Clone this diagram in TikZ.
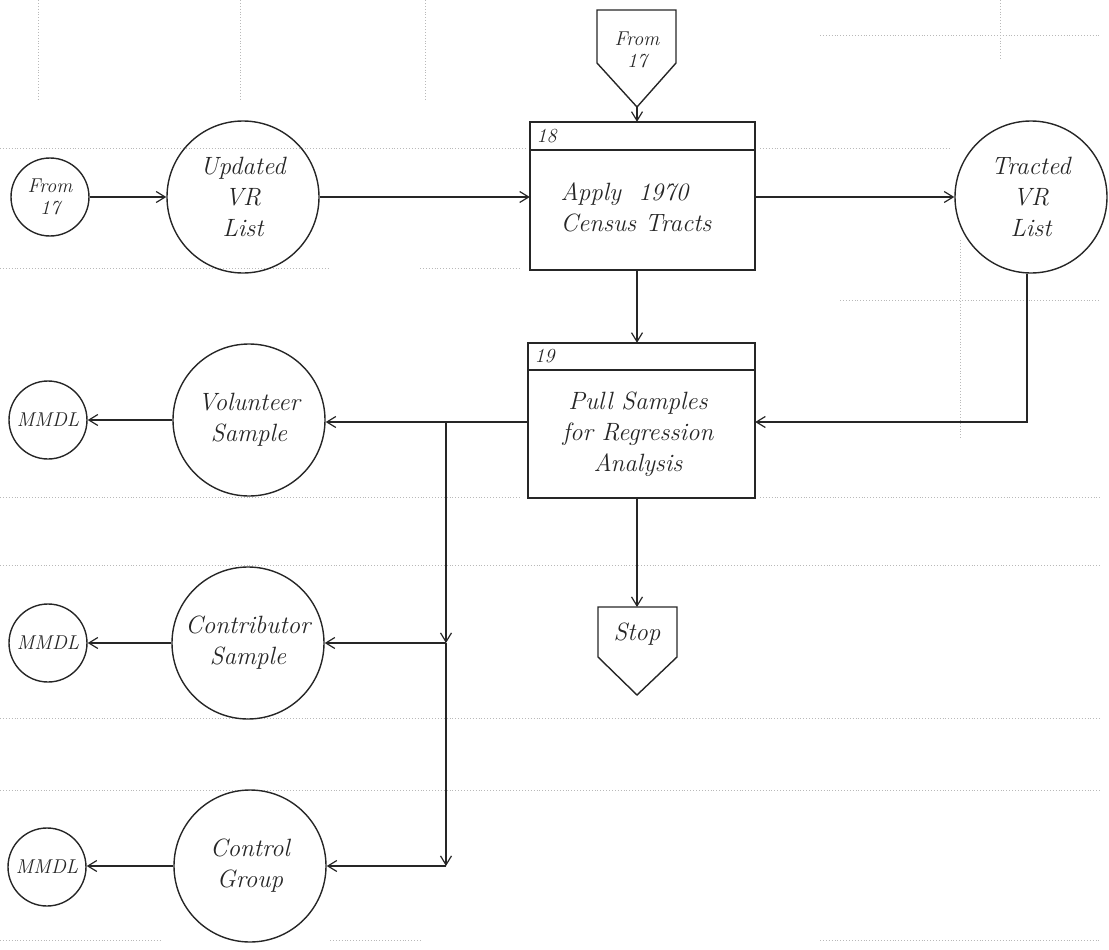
\documentclass[tikz,border=0pt]{standalone}
\usetikzlibrary{arrows.meta}
\begin{document}
\begin{tikzpicture}[x=1pt,y=-1pt,
  ln/.style={line width=1.4pt, draw=black!85},
  arr/.style={ln, -{Straight Barb[length=9pt,width=11pt,line width=1.2pt]}},
  hand/.style={font=\fontsize{25}{31}\selectfont\itshape, align=center, text=black!85},
  small/.style={font=\fontsize{20}{24}\selectfont\itshape, text=black!85},
  bigc/.style={circle, ln, minimum size=152pt, inner sep=0pt, hand},
  smallc/.style={circle, ln, minimum size=78pt, inner sep=0pt, small, align=center},
  rule/.style={gray!55, line width=0.9pt, dotted}
]
\useasboundingbox (0,0) rectangle (1109,950);
% faint ruled lines of the form
\draw[rule] (0,148) -- (525,148) (760,148) -- (950,148);
\draw[rule] (0,268) -- (330,268) (420,268) -- (520,268);
\draw[rule] (820,35) -- (1100,35);
\draw[rule] (840,300) -- (1100,300);
\draw[rule] (0,497) -- (520,497) (760,497) -- (1100,497);
\draw[rule] (0,565) -- (1100,565);
\draw[rule] (0,718) -- (1100,718);
\draw[rule] (0,790) -- (1100,790);
\draw[rule] (0,940) -- (160,940) (330,940) -- (420,940) (820,940) -- (1100,940);
\draw[rule] (38,0) -- (38,100) (240,0) -- (240,100) (425,0) -- (425,100) (960,240) -- (960,440) (1000,0) -- (1000,60);

% top row
\node[smallc] (f17) at (50,197) {From\\[-2pt]17};
\node[bigc] (upd) at (243,197) {Updated\\VR\\List};
\node[bigc] (trc) at (1031,197) {Tracted\\VR\\List};

% box 18
\draw[ln] (530,122) rectangle (755,270);
\draw[ln] (530,150) -- (755,150);
\node[small, anchor=west] (n18) at (533,136) {18};
\node[hand, align=left] (b18t) at (636,207) {Apply \ 1970\\Census Tracts};
\node[inner sep=0pt, minimum width=225pt, minimum height=148pt] (b18) at (642.5,196) {};

% from 17 off-page connector
\draw[ln] (597,10) -- (676,10) -- (676,63) -- (637,107) -- (597,63) -- cycle;
\node[small, align=center] (fp) at (637,50) {From\\[-2pt]17};
\coordinate (fptip) at (637,107);

% box 19
\draw[ln] (528,343) rectangle (755,498);
\draw[ln] (528,370) -- (755,370);
\node[small, anchor=west] (n19) at (531,356) {19};
\node[hand, align=center] (b19t) at (638,434) {Pull Samples\\for Regression\\Analysis};
\node[inner sep=0pt, minimum width=227pt, minimum height=155pt] (b19) at (641.5,420.5) {};

% stop
\draw[ln] (598,607) -- (677,607) -- (677,657) -- (637,695) -- (598,657) -- cycle;
\node[hand] (stopt) at (637,634) {Stop};
\coordinate (stoptop) at (637,607);

% left column
\node[smallc] (m1) at (48,420) {MMDL};
\node[bigc] (vol) at (249,420) {Volunteer\\Sample};
\node[smallc] (m2) at (48,643) {MMDL};
\node[bigc] (con) at (248,643) {Contributor\\Sample};
\node[smallc] (m3) at (47,867) {MMDL};
\node[bigc] (ctl) at (250,866) {Control\\Group};

% connectors
\draw[arr] (f17) -- (upd);
\draw[arr] (upd) -- (b18.west |- upd);
\draw[arr] (fptip) -- (fptip |- b18.north);
\draw[arr] (b18.east |- trc) -- (trc);
\draw[arr] (fptip |- b18.south) -- (fptip |- b19.north);
\coordinate (tr1) at (1027,422);
\draw[arr] (trc.south -| tr1) -- (tr1) -- (b19.east |- tr1);
\coordinate (bus0) at (446,422);
\coordinate (bus1) at (446,643);
\coordinate (bus2) at (446,866);
\draw[arr] (b19.west |- bus0) -- (vol.east |- bus0);
\draw[arr] (bus0) -- (bus1);
\draw[arr] (bus1) -- (bus2);
\draw[arr] (bus1) -- (con.east |- bus1);
\draw[arr] (bus2) -- (ctl.east |- bus2);
\draw[arr] (vol.west) -- (m1.east |- vol.west);
\draw[arr] (con.west) -- (m2.east |- con.west);
\draw[arr] (ctl.west) -- (m3.east |- ctl.west);
\draw[arr] (stoptop |- b19.south) -- (stoptop);
\end{tikzpicture}
\end{document}
